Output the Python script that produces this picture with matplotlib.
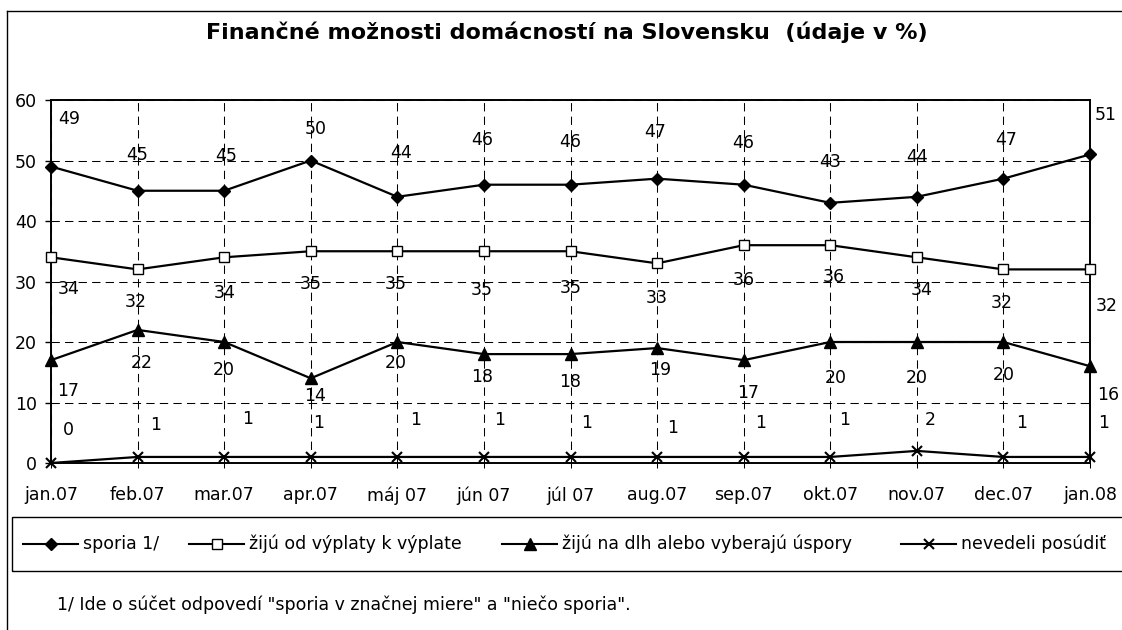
import numpy as np
import matplotlib.pyplot as plt
from matplotlib.lines import Line2D
from matplotlib.patches import Rectangle

plt.rcParams['font.family'] = ['DejaVu Sans']

mesiace = ["jan.07", "feb.07", "mar.07", "apr.07", "máj 07", "jún 07", "júl 07",
           "aug.07", "sep.07", "okt.07", "nov.07", "dec.07", "jan.08"]
sporia = [49, 45, 45, 50, 44, 46, 46, 47, 46, 43, 44, 47, 51]
vyplata = [34, 32, 34, 35, 35, 35, 35, 33, 36, 36, 34, 32, 32]
dlh = [17, 22, 20, 14, 20, 18, 18, 19, 17, 20, 20, 20, 16]
nevedeli = [0, 1, 1, 1, 1, 1, 1, 1, 1, 1, 2, 1, 1]

nazvy = ["sporia 1/", "žijú od výplaty k výplate",
         "žijú na dlh alebo vyberajú úspory", "nevedeli posúdiť"]
titulok = "Finančné možnosti domácností na Slovensku  (údaje v %)"
poznamka = '1/ Ide o súčet odpovedí "sporia v značnej miere" a "niečo sporia".'

# posuny popiskov v pixeloch (dx, dy), ako ich rozlozil Excel
off_sporia = [(18, 48), (0, 36), (2, 35), (5, 32), (4, 44), (-2, 45), (0, 43),
              (-2, 47), (0, 42), (0, 41), (0, 40), (3, 39), (16, 39)]
off_vyplata = [(18, -32), (-2, -33), (0, -36), (0, -33), (-2, -33), (-2, -39), (0, -37),
               (0, -35), (0, -35), (4, -32), (5, -33), (-2, -34), (17, -37)]
off_dlh = [(17, -31), (4, -33), (0, -28), (4, -18), (-2, -21), (-2, -23), (0, -28),
           (3, -22), (4, -33), (5, -36), (0, -36), (0, -33), (18, -29)]
off_nevedeli = [(17, 33), (18, 32), (23, 38), (8, 34), (18, 37), (16, 37), (16, 34),
                (16, 29), (17, 34), (14, 37), (13, 31), (18, 34), (14, 34)]

FS = 12.5
W, H = 1122, 630
fig = plt.figure(figsize=(W / 100, H / 100), dpi=100)
ax = fig.add_axes([51 / W, 1 - 463 / H, (1090 - 51) / W, (463 - 100) / H])

x = np.arange(len(mesiace))
styly = [
    dict(marker="D", ms=6.5, mfc="black", mec="black"),
    dict(marker="s", ms=7, mfc="white", mec="black", mew=1),
    dict(marker="^", ms=8.5, mfc="black", mec="black"),
    dict(marker="x", ms=7.5, mec="black", mew=1.5),
]
serie = [sporia, vyplata, dlh, nevedeli]
posuny = [off_sporia, off_vyplata, off_dlh, off_nevedeli]

for vals, st, offs in zip(serie, styly, posuny):
    ax.plot(x, vals, color="black", lw=1.6, clip_on=False, zorder=4, **st)
    for xi, v, (dx, dy) in zip(x, vals, offs):
        ax.annotate(str(v), (xi, v), xytext=(dx, dy), textcoords="offset pixels",
                    ha="center", va="center", fontsize=FS, annotation_clip=False)

ax.set_xlim(0, 12)
ax.set_ylim(0, 60)
ax.set_yticks(range(0, 61, 10))
ax.set_xticks(x, mesiace)
ax.grid(True, color="black", lw=0.75, ls=(0, (8, 5)))
ax.set_axisbelow(True)
for s in ax.spines.values():
    s.set_linewidth(1.4)
ax.tick_params(axis="y", length=4.3, width=1, pad=6, labelsize=FS)
ax.tick_params(axis="x", length=3.6, width=0.75, pad=13, labelsize=FS)

# titulok a poznamka
fig.text(567 / W, 1 - 32 / H, titulok, ha="center", va="center",
         fontsize=16, fontweight="bold")
fig.text(57 / W, 1 - 605 / H, poznamka, ha="left", va="center", fontsize=FS)

# ramik grafu
fig.add_artist(Line2D([7 / W, 7 / W], [0, 1 - 11 / H], transform=fig.transFigure,
                      color="black", lw=1))
fig.add_artist(Line2D([7 / W, 1], [1 - 11 / H, 1 - 11 / H], transform=fig.transFigure,
                      color="black", lw=1))

# legenda
fig.add_artist(Rectangle((12 / W, 1 - 571 / H), 1.1, 54 / H, transform=fig.transFigure,
                         fill=False, edgecolor="black", lw=1))
leg_x = [23, 189, 502, 901]
leg_y = 1 - 544 / H
for x0, st, nazov in zip(leg_x, styly, nazvy):
    fig.add_artist(Line2D([x0 / W, (x0 + 55) / W], [leg_y, leg_y], transform=fig.transFigure,
                          color="black", lw=1.5))
    fig.add_artist(Line2D([(x0 + 27.5) / W], [leg_y], transform=fig.transFigure,
                          color="black", lw=0, **st))
    fig.text((x0 + 60) / W, leg_y, nazov, ha="left", va="center", fontsize=FS)

fig.savefig("out.png", dpi=100)
